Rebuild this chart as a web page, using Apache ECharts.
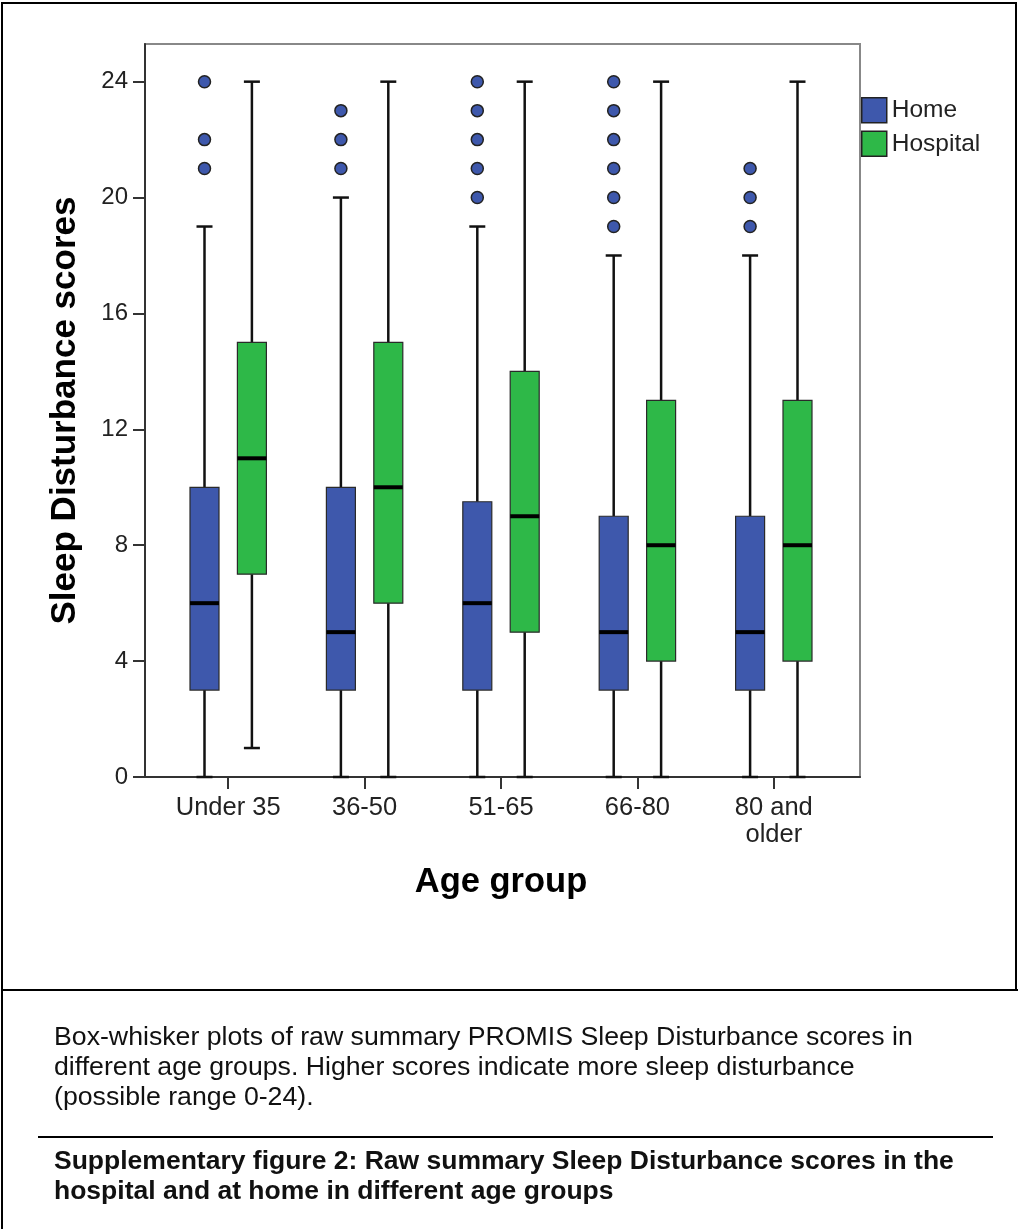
<!DOCTYPE html>
<html>
<head>
<meta charset="utf-8">
<script src="https://cdn.jsdelivr.net/npm/echarts@6/dist/echarts.min.js"></script>
<style>
html,body{margin:0;padding:0;background:#fff;}
#c{width:1018px;height:1229px;}
</style>
</head>
<body>
<div id="c"></div>
<script>
// ---- data ----
const categories = ['Under 35', '36-50', '51-65', '66-80', '80 and\nolder'];
const yTicks = [0, 4, 8, 12, 16, 20, 24];
// [low whisker, Q1, median, Q3, high whisker]
const homeBoxes = [
  [0, 3, 6, 10, 19],
  [0, 3, 5, 10, 20],
  [0, 3, 6, 9.5, 19],
  [0, 3, 5, 9, 18],
  [0, 3, 5, 9, 18]
];
const hospitalBoxes = [
  [1, 7, 11, 15, 24],
  [0, 6, 10, 15, 24],
  [0, 5, 9, 14, 24],
  [0, 4, 8, 13, 24],
  [0, 4, 8, 13, 24]
];
const homeOutliers = [
  [21, 22, 24],
  [21, 22, 23],
  [20, 21, 22, 23, 24],
  [19, 20, 21, 22, 23, 24],
  [19, 20, 21]
];
const hospitalOutliers = [[], [], [], [], []];

const FONT = "'Liberation Sans', Arial, Helvetica, sans-serif";
const HOME_COLOR = '#3E58AC';
const HOSP_COLOR = '#2EB848';
const SHIFT = 23.7;   // px offset of each box from category centre
const BOX_W = 29;
const CAP_W = 16;

function boxData(arr) {
  return arr.map((b, i) => [i].concat(b));
}
function outlierData(arr) {
  const out = [];
  arr.forEach((vals, i) => vals.forEach(v => out.push([i, v])));
  return out;
}
function makeRender(shift, color) {
  return function (params, api) {
    const idx = api.value(0);
    const x = api.coord([idx, 0])[0] + shift;
    const yLow = api.coord([idx, api.value(1)])[1];
    const yQ1 = api.coord([idx, api.value(2)])[1];
    const yMed = api.coord([idx, api.value(3)])[1];
    const yQ3 = api.coord([idx, api.value(4)])[1];
    const yHigh = api.coord([idx, api.value(5)])[1];
    const ls = { stroke: '#111', lineWidth: 2.5 };
    return {
      type: 'group',
      children: [
        { type: 'line', shape: { x1: x, y1: yLow, x2: x, y2: yQ1 }, style: ls },
        { type: 'line', shape: { x1: x, y1: yQ3, x2: x, y2: yHigh }, style: ls },
        { type: 'line', shape: { x1: x - CAP_W / 2, y1: yLow, x2: x + CAP_W / 2, y2: yLow }, style: ls },
        { type: 'line', shape: { x1: x - CAP_W / 2, y1: yHigh, x2: x + CAP_W / 2, y2: yHigh }, style: ls },
        { type: 'rect', shape: { x: x - BOX_W / 2, y: yQ3, width: BOX_W, height: yQ1 - yQ3 },
          style: { fill: color, stroke: '#2a2a2a', lineWidth: 1.2 } },
        { type: 'line', shape: { x1: x - BOX_W / 2, y1: yMed, x2: x + BOX_W / 2, y2: yMed },
          style: { stroke: '#000', lineWidth: 4 } }
      ]
    };
  };
}

const chart = echarts.init(document.getElementById('c'));
const option = {
  animation: false,
  backgroundColor: '#fff',
  textStyle: { fontFamily: FONT },
  legend: {
    orient: 'vertical',
    left: 861, top: 97,
    padding: 0,
    itemWidth: 25, itemHeight: 25, itemGap: 7,
    textStyle: { fontSize: 24.5, color: '#222', fontFamily: FONT },
    data: [
      { name: 'Home', icon: 'rect', itemStyle: { color: HOME_COLOR, borderColor: '#222', borderWidth: 1.5 } },
      { name: 'Hospital', icon: 'rect', itemStyle: { color: HOSP_COLOR, borderColor: '#222', borderWidth: 1.5 } }
    ]
  },
  grid: [
    { left: 145, top: 44, width: 715, height: 733, show: true, borderColor: '#888', borderWidth: 2, backgroundColor: 'transparent' },
    { left: 160, top: 44, width: 682, height: 733 }
  ],
  xAxis: [
    { gridIndex: 0, type: 'value', min: 0, max: 1,
      axisLine: { show: true, lineStyle: { color: '#333', width: 2 } },
      axisTick: { show: false }, axisLabel: { show: false }, splitLine: { show: false } },
    { gridIndex: 1, type: 'category', data: categories,
      axisLine: { show: false },
      axisTick: { show: true, alignWithLabel: true, interval: 0, length: 12, lineStyle: { color: '#333', width: 2 } },
      axisLabel: { interval: 0, hideOverlap: false, fontSize: 25.5, color: '#222', margin: 17, lineHeight: 27, fontFamily: FONT },
      name: 'Age group', nameLocation: 'middle', nameGap: 88,
      nameTextStyle: { fontSize: 34.5, fontWeight: 'bold', color: '#000', fontFamily: FONT },
      splitLine: { show: false } }
  ],
  yAxis: [
    { gridIndex: 0, type: 'value', min: 0, max: 25.3,
      axisLine: { show: true, lineStyle: { color: '#333', width: 2 } },
      axisTick: { show: true, length: 12, customValues: yTicks, lineStyle: { color: '#333', width: 2 } },
      axisLabel: { fontSize: 24, color: '#222', margin: 17, customValues: yTicks, fontFamily: FONT },
      splitLine: { show: false },
      name: 'Sleep Disturbance scores', nameLocation: 'middle', nameGap: 62,
      nameTextStyle: { fontSize: 35, fontWeight: 'bold', color: '#000', fontFamily: FONT } },
    { gridIndex: 1, type: 'value', min: 0, max: 25.3, show: false }
  ],
  series: [
    { name: 'Home', type: 'custom', xAxisIndex: 1, yAxisIndex: 1,
      itemStyle: { color: HOME_COLOR },
      encode: { x: 0, y: [1, 2, 3, 4, 5] },
      renderItem: makeRender(-SHIFT, HOME_COLOR), data: boxData(homeBoxes) },
    { name: 'Hospital', type: 'custom', xAxisIndex: 1, yAxisIndex: 1,
      itemStyle: { color: HOSP_COLOR },
      encode: { x: 0, y: [1, 2, 3, 4, 5] },
      renderItem: makeRender(SHIFT, HOSP_COLOR), data: boxData(hospitalBoxes) },
    { name: 'Home outliers', type: 'scatter', xAxisIndex: 1, yAxisIndex: 1,
      symbol: 'circle', symbolSize: 12, symbolOffset: [-SHIFT, 0],
      itemStyle: { color: HOME_COLOR, borderColor: '#222', borderWidth: 1.5, opacity: 1 },
      data: outlierData(homeOutliers), z: 5 },
    { name: 'Hospital outliers', type: 'scatter', xAxisIndex: 1, yAxisIndex: 1,
      symbol: 'circle', symbolSize: 12, symbolOffset: [SHIFT, 0],
      itemStyle: { color: HOSP_COLOR, borderColor: '#222', borderWidth: 1.5, opacity: 1 },
      data: outlierData(hospitalOutliers), z: 5 }
  ],
  graphic: [
    { type: 'rect', shape: { x: 2, y: 3, width: 1014, height: 987 }, style: { fill: 'none', stroke: '#000', lineWidth: 2 }, silent: true },
    { type: 'line', shape: { x1: 2, y1: 990, x2: 2, y2: 1229 }, style: { stroke: '#000', lineWidth: 2 }, silent: true },
    { type: 'line', shape: { x1: 1016, y1: 990, x2: 1018, y2: 990 }, style: { stroke: '#000', lineWidth: 2 }, silent: true },
    { type: 'line', shape: { x1: 38, y1: 1137, x2: 993, y2: 1137 }, style: { stroke: '#000', lineWidth: 2 }, silent: true },
    { type: 'text', left: 54, top: 1023, silent: true,
      style: { text: 'Box-whisker plots of raw summary PROMIS Sleep Disturbance scores in\ndifferent age groups. Higher scores indicate more sleep disturbance\n(possible range 0-24).',
        fontSize: 26.7, lineHeight: 30, fill: '#111', fontFamily: FONT } },
    { type: 'text', left: 54, top: 1147, silent: true,
      style: { text: 'Supplementary figure 2: Raw summary Sleep Disturbance scores in the\nhospital and at home in different age groups',
        fontSize: 26.5, lineHeight: 30, fontWeight: 'bold', fill: '#111', fontFamily: FONT } }
  ]
};
chart.setOption(option);
</script>
</body>
</html>
